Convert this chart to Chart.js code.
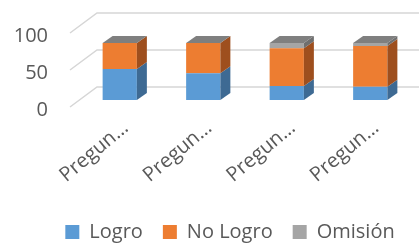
<!DOCTYPE html>
<html>
<head>
<meta charset="utf-8">
<script src="https://cdn.jsdelivr.net/npm/chart.js@4/dist/chart.umd.min.js"></script>
<style>
  html, body { margin: 0; padding: 0; background: #fff; }
  #wrap { width: 419px; height: 244px; }
</style>
</head>
<body>
<div id="wrap"><canvas id="c"></canvas></div>
<script>
// data
const categories = ['Pregunta 1', 'Pregunta 2', 'Pregunta 3', 'Pregunta 4'];
const logro      = [42, 36, 19, 18];
const noLogro    = [35, 41, 51, 55];
const omision    = [0, 0, 7, 4];
const yTicks     = [0, 50, 100];

const FONT = '"Open Sans", sans-serif';
const TEXT = '#595959';

// front / side / top shades for the fake 3d
const shades = [
  { front: '#5b9bd5', side: '#3e6a93', top: '#4a80b0' },
  { front: '#ed7d31', side: '#9e4f1e', top: '#c46526' },
  { front: '#a5a5a5', side: '#6f6f6f', top: '#7f7f7f' },
];

const DX = 10, DY = -7; // bar depth

const depth3d = {
  id: 'depth3d',
  beforeDatasetsDraw(chart) {
    const { ctx, chartArea: a, scales: { y } } = chart;
    ctx.save();
    ctx.strokeStyle = '#d6d6d6';
    ctx.lineWidth = 1.5;
    yTicks.forEach(v => {
      const py = y.getPixelForValue(v);
      ctx.beginPath();
      ctx.moveTo(a.left - 8, py + 7);
      ctx.lineTo(a.left + 19, py - 13);
      ctx.lineTo(a.right + 7, py - 13);
      ctx.stroke();
    });
    ctx.restore();
  },
  afterDatasetsDraw(chart) {
    const { ctx } = chart;
    const metas = chart.data.datasets.map((_, i) => chart.getDatasetMeta(i));
    ctx.save();
    // side faces, segment by segment
    metas.forEach((meta, di) => {
      meta.data.forEach(el => {
        const { x, y, base, width } = el.getProps(['x', 'y', 'base', 'width'], true);
        if (Math.abs(base - y) < 0.5) return;
        const r = x + width / 2;
        ctx.fillStyle = shades[di].side;
        ctx.beginPath();
        ctx.moveTo(r, y);
        ctx.lineTo(r + DX, y + DY);
        ctx.lineTo(r + DX, base + DY);
        ctx.lineTo(r, base);
        ctx.closePath();
        ctx.fill();
      });
    });
    // top face uses the last series colour
    const last = metas.length - 1;
    metas[last].data.forEach(el => {
      const { x, y, width } = el.getProps(['x', 'y', 'width'], true);
      const l = x - width / 2, r = x + width / 2;
      ctx.fillStyle = shades[last].top;
      ctx.beginPath();
      ctx.moveTo(l, y);
      ctx.lineTo(l + DX, y + DY);
      ctx.lineTo(r + DX, y + DY);
      ctx.lineTo(r, y);
      ctx.closePath();
      ctx.fill();
    });
    ctx.restore();
  },
};

// nudge the legend to where Excel put it
const legendShift = {
  id: 'legendShift',
  afterLayout(chart) {
    const l = chart.legend;
    l.left += 24; l.right += 24;
    l.top += 8; l.bottom += 8;
  },
};

new Chart(document.getElementById('c'), {
  type: 'bar',
  data: {
    labels: categories,
    datasets: [
      { label: 'Logro',    data: logro,   backgroundColor: shades[0].front },
      { label: 'No Logro', data: noLogro, backgroundColor: shades[1].front },
      { label: 'Omisión',  data: omision, backgroundColor: shades[2].front },
    ].map(d => ({ ...d, borderWidth: 0, barPercentage: 0.82, categoryPercentage: 0.5 })),
  },
  options: {
    responsive: true,
    maintainAspectRatio: false,
    animation: false,
    layout: { padding: { top: 26, right: 7, left: 0, bottom: 0 } },
    plugins: {
      legend: {
        position: 'bottom',
        labels: {
          color: TEXT, font: { family: FONT, size: 20 },
          boxWidth: 14, boxHeight: 14, padding: 20,
        },
      },
      tooltip: { enabled: false },
    },
    scales: {
      x: {
        stacked: true,
        grid: { display: false },
        border: { display: false },
        afterFit: s => { s.height = 94; s.paddingLeft = 0; s.paddingRight = 0; },
        ticks: {
          color: TEXT, font: { family: FONT, size: 20 },
          autoSkip: false, maxRotation: 40, minRotation: 40, padding: 8, labelOffset: 6,
          callback(v) { return this.getLabelForValue(v).slice(0, 6) + '…'; },
        },
      },
      y: {
        stacked: true,
        min: 0, max: 100,
        grid: { display: false },
        border: { display: false },
        afterFit: s => { s.width = 78; s.paddingTop = 0; s.paddingBottom = 0; },
        ticks: {
          color: TEXT, font: { family: FONT, size: 20 },
          stepSize: 50, padding: 22, labelOffset: 10,
        },
      },
    },
  },
  plugins: [depth3d, legendShift],
});
</script>
</body>
</html>
